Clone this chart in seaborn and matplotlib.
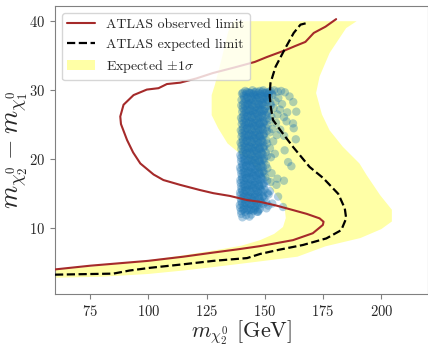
import numpy as np
import matplotlib
matplotlib.use("Agg")
import matplotlib.pyplot as plt
import seaborn as sns

# ATLAS observed exclusion contour
obs_x = [60, 75.2, 100, 115, 127.9, 138, 147.9, 162.1, 170.6, 174.9, 175.2, 173.5,
         168, 162.1, 155, 147.9, 142.4, 135, 127.9, 122.2, 113.7, 106.5, 102.3,
         96.6, 93.5, 90.9, 88.3, 88.0, 89.4, 93.7, 99.4, 104.4, 108, 113.7, 120.5,
         127.8, 137, 145.7, 150.8, 158.8, 163, 167.4, 171, 176, 180.6]
obs_y = [4.06, 4.6, 5.3, 5.9, 6.5, 6.95, 7.43, 8.3, 9.3, 10.5, 10.96, 11.45,
         12.1, 12.65, 13.3, 13.85, 14.1, 14.7, 15.1, 15.55, 16.3, 17.0, 17.8,
         19.4, 21.0, 22.8, 25.1, 26.2, 27.9, 29.3, 30.1, 30.3, 30.9, 31.1, 31.7,
         32.5, 33.3, 34.1, 34.8, 35.8, 36.4, 37.0, 38.3, 39.2, 40.3]

# ATLAS expected exclusion contour
exp_x = [60, 85, 92, 101, 115, 128, 142.4, 148, 156, 166.4, 176.4, 182.8, 184.9,
         184.3, 181.5, 175, 169.2, 162.1, 156.7, 153.5, 152.6, 152.1, 152.4,
         154.6, 158.8, 162.4, 165.3, 168.8]
exp_y = [3.3, 3.45, 3.9, 4.3, 4.8, 5.3, 5.7, 6.3, 6.9, 7.6, 8.55, 9.75, 11.45,
         12.9, 15.0, 17.3, 18.9, 21.8, 24.2, 25.7, 27.5, 29.1, 31.0,
         33.4, 36.1, 38.3, 39.5, 39.8]

# Expected +/- 1 sigma band: outer and inner edges
band_outer_x = [60, 80, 100, 115, 128, 145, 164, 176, 191, 200, 204.5, 204.5,
                199.5, 193.7, 190.6, 183.5, 177.8, 174.5, 172, 173.5, 177.8,
                184.9, 189.4]
band_outer_y = [2.85, 3.0, 3.4, 3.9, 4.4, 5.1, 5.9, 7.4, 8.6, 9.9, 11.0, 12.7,
                14.8, 17.7, 19.4, 21.8, 24.2, 26.5, 29.6, 32.0, 35.4,
                39.0, 40.0]
band_inner_x = [60, 80, 100, 115, 129, 140, 148, 154, 157.8, 159, 158.5, 155,
                150, 144, 139, 134, 130, 127.2, 127.2, 128.6, 131.5, 134.3, 136.5]
band_inner_y = [4.0, 4.6, 5.4, 6.1, 6.85, 7.5, 8.3, 9.2, 10.2, 11.5, 13.0, 14.8,
                17.2, 19.5, 20.9, 22.3, 24.5, 26.4, 29.3, 30.8, 34.6, 38.5, 40.0]

# Scan points
scatter_x = [
    141.6, 143.1, 144.7, 146.2, 147.8, 149.3, 150.9, 152.4, 154.0, 155.5, 157.0, 158.6,
    140.2, 141.9, 143.5, 145.0, 146.6, 148.1, 149.7, 151.3, 153.0,
    140.9, 142.4, 144.0, 145.5, 147.1, 148.6, 150.2, 151.7, 153.3, 155.8, 160.6,
    140.0, 141.7, 143.3, 144.8, 146.4, 148.0, 149.5, 151.1,
    141.3, 142.9, 144.4, 146.0, 147.5, 149.1, 150.7, 152.4, 154.6, 157.4, 162.2,
    139.9, 141.5, 143.0, 144.6, 146.1, 147.7, 149.3, 150.9, 152.6,
    140.5, 142.1, 143.6, 145.2, 146.8, 148.4, 150.0, 151.7, 153.8, 156.5, 159.6, 163.5,
    140.3, 141.8, 143.4, 145.0, 146.5, 148.1, 149.7, 151.4,
    141.0, 142.6, 144.1, 145.7, 147.3, 148.9, 150.6, 152.8, 155.4, 158.2,
    139.8, 141.4, 142.9, 144.5, 146.1, 147.6, 149.3, 150.9,
    140.3, 141.9, 143.4, 145.0, 146.6, 148.2, 149.8, 151.9, 154.8, 159.3, 162.1,
    140.1, 141.6, 143.2, 144.8, 146.3, 147.9, 149.5, 151.2,
    140.8, 142.4, 144.0, 145.5, 147.1, 148.7, 150.5, 153.2, 156.6, 162.4,
    139.7, 141.3, 142.9, 144.4, 146.0, 147.6, 149.2, 150.9,
    140.2, 141.7, 143.3, 144.9, 146.5, 148.0, 149.7, 152.0, 155.1, 158.3,
    140.0, 141.5, 143.1, 144.7, 146.3, 147.9, 149.5,
    140.6, 142.2, 143.8, 145.4, 147.0, 148.6, 150.6, 153.6, 163.3,
    139.6, 141.2, 142.8, 144.4, 146.0, 147.6, 149.3, 151.0,
    140.0, 141.6, 143.2, 144.8, 146.4, 148.0, 149.8, 152.2, 158.5,
    139.9, 141.4, 143.0, 144.6, 146.2, 147.8, 149.5,
    140.5, 142.0, 143.6, 145.2, 146.8, 148.5, 150.4, 154.3,
    139.5, 141.1, 142.7, 144.3, 145.9, 147.5, 149.2, 151.0,
    139.8, 141.4, 143.0, 144.6, 146.2, 147.8, 149.6, 152.6, 160.0,
    139.8, 141.4, 143.0, 144.6, 146.2, 147.9, 149.7,
    140.3, 141.9, 143.5, 145.1, 146.7, 148.4, 150.5, 161.4,
    139.4, 141.0, 142.6, 144.2, 145.8, 147.4, 149.1, 151.1,
    139.7, 141.3, 142.9, 144.5, 146.1, 147.7, 149.5, 152.9,
    139.9, 141.5, 143.1, 144.7, 146.3, 147.9, 149.7,
    140.2, 141.8, 143.4, 145.0, 146.6, 148.3, 150.2, 155.4,
    139.5, 141.0, 142.6, 144.2, 145.8, 147.4, 149.1, 151.0,
    139.6, 141.2, 142.8, 144.4, 146.0, 147.6, 149.4, 152.4, 155.0, 158.2,
    139.8, 141.4, 143.0, 144.6, 146.2, 147.8, 149.6,
    140.0, 141.6, 143.2, 144.8, 146.4, 148.0, 149.9, 152.2,
    139.4, 140.9, 142.5, 144.1, 145.7, 147.3, 149.0, 151.2,
    139.5, 141.1, 142.7, 144.3, 145.9, 147.5, 149.3, 151.6, 155.7,
    139.7, 141.3, 142.9, 144.5, 146.1, 147.8, 149.8,
    139.9, 141.5, 143.1, 144.7, 146.3, 148.2, 150.6, 153.2,
    139.3, 140.9, 142.5, 144.1, 145.7, 147.4, 149.3, 151.5,
    139.4, 141.0, 142.6, 144.2, 146.0, 147.8, 150.7, 157.8,
    139.8, 141.5, 143.2, 145.0, 146.8,
    139.9, 142.0, 144.2, 147.1,
    140.4, 143.4,
    # densest part of the scan
    140.6, 142.3, 143.9, 145.6, 147.2, 148.9, 150.3, 151.9,
    141.1, 142.7, 144.4, 146.0, 147.7, 149.4, 150.8,
    140.7, 142.4, 144.0, 145.7, 147.3, 149.0,
    141.2, 142.8, 144.5, 146.1, 147.8, 149.5,
    140.6, 142.2, 143.9, 145.5, 147.2, 148.8,
    141.0, 142.7, 144.3, 146.0, 147.6, 149.3,
    140.5, 142.2, 143.8, 145.5, 147.1, 148.8,
    141.0, 142.6, 144.3, 145.9, 147.6, 149.2,
    140.5, 142.1, 143.8, 145.4, 147.1, 148.7,
    140.9, 142.6, 144.2, 145.9, 147.5, 149.2,
    140.4, 142.1, 143.7, 145.4, 147.0, 148.7,
    140.9, 142.5, 144.2, 145.8, 147.5, 149.1,
    140.4, 142.0, 143.7, 145.3, 147.0, 148.6,
    140.8, 142.5, 144.1, 145.8, 147.4, 149.1,
    140.3, 142.0, 143.6, 145.3, 146.9, 148.6,
    140.8, 142.4, 144.1, 145.7, 147.4, 149.0,
    140.3, 141.9, 143.6, 145.2, 146.9, 148.5,
    140.7, 142.4, 144.0, 145.7, 147.3, 149.0,
    140.2, 141.9, 143.5, 145.2, 146.8, 148.5,
    140.6, 142.3, 144.0, 145.6, 147.3,
]
scatter_y = [
    29.9, 29.7, 30.0, 29.8, 29.9, 30.0, 29.7, 29.9, 30.0, 29.8, 29.9, 29.7,
    29.5, 29.4, 29.6, 29.5, 29.3, 29.5, 29.6, 29.4, 29.5,
    29.2, 29.0, 29.1, 29.3, 29.0, 29.2, 29.1, 29.0, 29.3, 28.9, 29.1,
    28.6, 28.7, 28.5, 28.6, 28.8, 28.5, 28.7, 28.6,
    28.3, 28.1, 28.2, 28.4, 28.0, 28.2, 28.3, 28.1, 28.4, 28.0, 28.3,
    27.8, 27.7, 27.9, 27.8, 27.6, 27.8, 27.9, 27.7, 27.8,
    27.4, 27.2, 27.3, 27.1, 27.4, 27.2, 27.3, 27.0, 27.4, 27.2, 26.8, 26.9,
    26.9, 26.8, 27.0, 26.9, 26.7, 26.9, 27.0, 26.8,
    26.5, 26.3, 26.4, 26.6, 26.3, 26.5, 26.4, 26.2, 26.5, 26.1,
    26.0, 25.9, 26.1, 26.0, 25.8, 26.0, 26.1, 25.9,
    25.6, 25.4, 25.5, 25.3, 25.6, 25.4, 25.5, 25.7, 25.3, 25.5, 25.2,
    25.1, 25.0, 25.2, 25.1, 24.9, 25.1, 25.2, 25.0,
    24.7, 24.5, 24.6, 24.8, 24.5, 24.7, 24.6, 24.4, 24.3, 24.5,
    24.2, 24.1, 24.3, 24.2, 24.0, 24.2, 24.3, 24.1,
    23.8, 23.6, 23.7, 23.5, 23.8, 23.6, 23.7, 23.9, 23.5, 23.4,
    23.3, 23.2, 23.4, 23.3, 23.1, 23.3, 23.4,
    22.9, 22.7, 22.8, 23.0, 22.7, 22.9, 22.8, 22.6, 22.9,
    22.4, 22.3, 22.5, 22.4, 22.2, 22.4, 22.5, 22.3,
    22.0, 21.8, 21.9, 21.7, 22.0, 21.8, 21.9, 21.6, 21.3,
    21.5, 21.4, 21.6, 21.5, 21.3, 21.5, 21.6,
    21.1, 20.9, 21.0, 21.2, 20.9, 21.1, 21.0, 20.8,
    20.6, 20.5, 20.7, 20.6, 20.4, 20.6, 20.7, 20.5,
    20.2, 20.0, 20.1, 19.9, 20.2, 20.0, 20.1, 20.3, 19.6,
    19.7, 19.6, 19.8, 19.7, 19.5, 19.7, 19.8,
    19.3, 19.1, 19.2, 19.4, 19.1, 19.3, 19.2, 19.0,
    18.8, 18.7, 18.9, 18.8, 18.6, 18.8, 18.9, 18.7,
    18.4, 18.2, 18.3, 18.1, 18.4, 18.2, 18.3, 18.0,
    17.9, 17.8, 18.0, 17.9, 17.7, 17.9, 18.0,
    17.5, 17.3, 17.4, 17.6, 17.3, 17.5, 17.4, 17.2,
    17.0, 16.9, 17.1, 17.0, 16.8, 17.0, 17.1, 16.9,
    16.6, 16.4, 16.5, 16.3, 16.6, 16.4, 16.5, 16.7, 16.3, 16.9,
    16.1, 16.0, 16.2, 16.1, 15.9, 16.1, 16.2,
    15.7, 15.5, 15.6, 15.8, 15.5, 15.7, 15.6, 15.4,
    15.2, 15.1, 15.3, 15.2, 15.0, 15.2, 15.3, 15.1,
    14.8, 14.6, 14.7, 14.5, 14.8, 14.6, 14.7, 14.9, 14.6,
    14.3, 14.2, 14.4, 14.3, 14.1, 14.3, 14.4,
    13.9, 13.7, 13.8, 14.0, 13.7, 13.9, 13.8, 13.6,
    13.4, 13.3, 13.5, 13.4, 13.2, 13.4, 13.5, 13.3,
    13.0, 12.8, 12.9, 12.7, 13.0, 12.8, 12.9, 13.1,
    12.5, 12.4, 12.6, 12.5, 12.4,
    12.1, 11.9, 12.0, 12.4,
    11.6, 11.7,
    # densest part of the scan
    29.65, 29.75, 29.6, 29.7, 29.65, 29.8, 29.6, 29.7,
    28.85, 28.9, 28.8, 28.95, 28.85, 28.8, 28.9,
    28.0, 27.95, 28.05, 28.0, 27.9, 28.05,
    27.1, 27.15, 27.05, 27.1, 27.2, 27.05,
    26.2, 26.25, 26.15, 26.2, 26.1, 26.25,
    25.3, 25.25, 25.35, 25.3, 25.2, 25.35,
    24.4, 24.45, 24.35, 24.4, 24.3, 24.45,
    23.5, 23.45, 23.55, 23.5, 23.4, 23.55,
    22.6, 22.65, 22.55, 22.6, 22.5, 22.65,
    21.7, 21.65, 21.75, 21.7, 21.6, 21.75,
    20.8, 20.85, 20.75, 20.8, 20.7, 20.85,
    19.9, 19.85, 19.95, 19.9, 19.8, 19.95,
    19.0, 19.05, 18.95, 19.0, 18.9, 19.05,
    18.1, 18.05, 18.15, 18.1, 18.0, 18.15,
    17.2, 17.25, 17.15, 17.2, 17.1, 17.25,
    16.3, 16.25, 16.35, 16.3, 16.2, 16.35,
    15.4, 15.45, 15.35, 15.4, 15.3, 15.45,
    14.5, 14.45, 14.55, 14.5, 14.4, 14.55,
    13.6, 13.65, 13.55, 13.6, 13.5, 13.65,
    12.7, 12.65, 12.75, 12.7, 12.6,
]

x_ticks = [75, 100, 125, 150, 175, 200]
y_ticks = [10, 20, 30, 40]

sns.set_style("ticks", {"axes.edgecolor": "0.5", "xtick.color": "0.5",
                        "ytick.color": "0.5"})
plt.rcParams["font.family"] = ["cmr10", "DejaVu Serif"]
plt.rcParams["mathtext.fontset"] = "cm"
plt.rcParams["axes.formatter.use_mathtext"] = True
plt.rcParams["xtick.labelcolor"] = "0.15"
plt.rcParams["ytick.labelcolor"] = "0.15"

fig = plt.figure(figsize=(4.28, 3.5), dpi=100)
ax = fig.add_axes([55 / 428, 56 / 350, 373 / 428, 288 / 350])

band = ax.fill(np.concatenate([band_outer_x, band_inner_x[::-1]]),
               np.concatenate([band_outer_y, band_inner_y[::-1]]),
               color="yellow", alpha=0.35, lw=0, zorder=1,
               label=r"Expected $\pm1\sigma$")[0]

sns.scatterplot(x=scatter_x, y=scatter_y, ax=ax, color="#1f77b4", alpha=0.35,
                s=36, linewidth=0, edgecolor="none", zorder=2)

sns.lineplot(x=obs_x, y=obs_y, sort=False, estimator=None, color="#a52a2a",
             lw=1.5, ax=ax, zorder=3)
sns.lineplot(x=exp_x, y=exp_y, sort=False, estimator=None, color="black",
             ls="--", lw=1.6, ax=ax, zorder=3)

lines = ax.get_lines()
lines[0].set_label("ATLAS observed limit")
lines[1].set_label("ATLAS expected limit")

ax.set_xlim(60, 220)
ax.set_ylim(0.5, 42.2)
ax.set_xticks(x_ticks)
ax.set_yticks(y_ticks)
ax.tick_params(labelsize=10.5)

ax.set_xlabel(r"$m_{\chi_2^0}$ [GeV]", fontsize=16, labelpad=0)
ax.set_ylabel(r"$m_{\chi_2^0} - m_{\chi_1^0}$", fontsize=19)
ax.yaxis.set_label_coords(-0.068, 0.5)

ax.legend(handles=[lines[0], lines[1], band], loc="upper left", fontsize=10,
          frameon=True, framealpha=0.8, edgecolor="0.8")

fig.savefig("out.png", dpi=100)
